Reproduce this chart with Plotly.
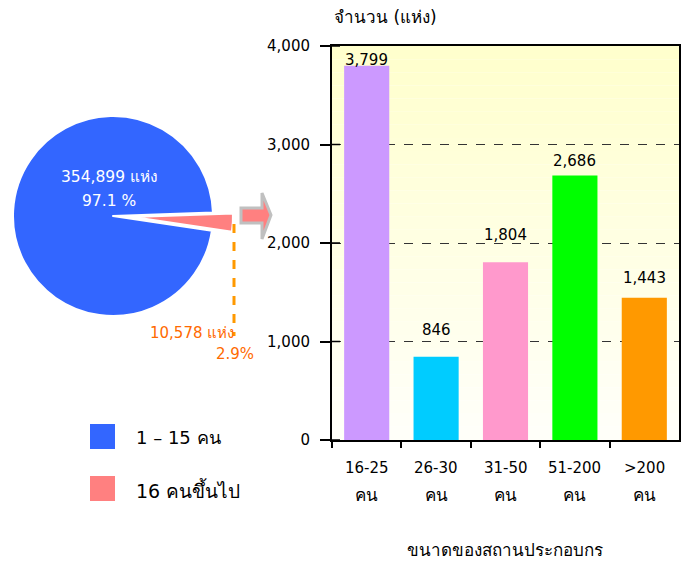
import plotly.graph_objects as go

W, H = 688, 563

# ---- data ----
pie_labels = ["16 คนขึ้นไป", "1 – 15 คน"]
pie_values = [10578, 354899]
pie_colors = ["#FF8080", "#3366FF"]
pie_text_small = ["10,578 แห่ง", "2.9%"]
pie_text_big = ["354,899 แห่ง", "97.1 %"]

categories = ["16-25", "26-30", "31-50", "51-200", ">200"]
cat_unit = "คน"
bar_values = [3799, 846, 1804, 2686, 1443]
bar_colors = ["#CC99FF", "#00CCFF", "#FF99CC", "#00FF00", "#FF9900"]
bar_text = ["3,799", "846", "1,804", "2,686", "1,443"]
label_lift = [6, 27, 27, 14, 20]   # style: how far each value label sits above its bar
y_ticks = [0, 1000, 2000, 3000, 4000]
y_ticktext = ["0", "1,000", "2,000", "3,000", "4,000"]
y_title = "จำนวน (แห่ง)"
x_title = "ขนาดของสถานประกอบกร"

FONT = "Tahoma, 'DejaVu Sans', 'Noto Sans', sans-serif"


def px(x):
    return x / W


def py(y):
    return 1 - y / H


fig = go.Figure()

# big slice (pie at original centre)
fig.add_trace(go.Pie(
    labels=pie_labels, values=pie_values, sort=False, direction="clockwise",
    rotation=88, textinfo="none", hoverinfo="label+value",
    marker=dict(colors=["rgba(0,0,0,0)", pie_colors[1]],
                line=dict(color="white", width=[0, 2])),
    domain=dict(x=[px(13), px(213)], y=[py(316), py(116)]),
    showlegend=False,
))
# exploded small slice
fig.add_trace(go.Pie(
    labels=pie_labels, values=pie_values, sort=False, direction="clockwise",
    rotation=88, textinfo="none", hoverinfo="label+value",
    marker=dict(colors=[pie_colors[0], "rgba(0,0,0,0)"],
                line=dict(color="white", width=[2, 0])),
    domain=dict(x=[px(33), px(233)], y=[py(317), py(117)]),
    showlegend=False,
))

fig.add_trace(go.Bar(
    x=categories, y=bar_values, marker=dict(color=bar_colors, line=dict(width=0)),
    showlegend=False, xaxis="x", yaxis="y", hoverinfo="x+y",
))

shapes = []
# gradient background for bar plot area
n = 30
for i in range(n):
    t = (i + 0.5) / n
    b = int(round(250 - 46 * t))
    shapes.append(dict(type="rect", xref="x domain", yref="y",
                       x0=0, x1=1, y0=4000 * i / n, y1=4000 * (i + 1) / n,
                       fillcolor=f"rgb(255,255,{b})", line=dict(width=0),
                       layer="below"))
# inner half of the crossing y ticks
for v in y_ticks:
    shapes.append(dict(type="line", xref="x domain", yref="y",
                       x0=0, x1=8 / 347, y0=v, y1=v,
                       line=dict(color="black", width=1.5)))

# arrow
ax = [241, 262, 262, 271, 262, 262, 241]
ay = [208, 208, 193, 215, 239, 223, 223]
path = "M " + " L ".join(f"{px(a)},{py(b)}" for a, b in zip(ax, ay)) + " Z"
shapes.append(dict(type="path", xref="paper", yref="paper", path=path,
                   fillcolor="#FF8080", line=dict(color="#C0C0C0", width=3)))

# orange dashed leader
shapes.append(dict(type="line", xref="paper", yref="paper",
                   x0=px(234), x1=px(234), y0=py(224), y1=py(336),
                   line=dict(color="#FF9900", width=3, dash="dash")))

# legend squares
shapes.append(dict(type="rect", xref="paper", yref="paper",
                   x0=px(90), x1=px(115), y0=py(449), y1=py(424),
                   fillcolor=pie_colors[1], line=dict(width=0)))
shapes.append(dict(type="rect", xref="paper", yref="paper",
                   x0=px(90), x1=px(115), y0=py(501), y1=py(476),
                   fillcolor=pie_colors[0], line=dict(width=0)))

annotations = []


def note(x, y, text, size=15, color="black", xanchor="center", yanchor="middle",
         xref="paper", yref="paper", yshift=0):
    annotations.append(dict(x=x, y=y, xref=xref, yref=yref, text=text,
                            showarrow=False, xanchor=xanchor, yanchor=yanchor,
                            yshift=yshift,
                            font=dict(size=size, color=color, family=FONT)))


# pie labels
note(px(109), py(177), pie_text_big[0], size=15.5, color="white")
note(px(109), py(201), pie_text_big[1], size=15.5, color="white")
note(px(236), py(333), pie_text_small[0], color="#FF6A00", xanchor="right")
note(px(256), py(354), pie_text_small[1], color="#FF6A00", xanchor="right")
# legend text
note(px(134), py(437), pie_labels[1], size=18, xanchor="left")
note(px(134), py(490), pie_labels[0], size=19, xanchor="left")
# bar value labels
for c, v, t, lift in zip(categories, bar_values, bar_text, label_lift):
    note(c, v, t, xref="x", yref="y", yshift=lift)
# category labels (two lines)
for c in categories:
    note(c, py(468), c, xref="x")
    note(c, py(495), cat_unit, size=17, xref="x")
# axis titles
note(px(332), py(17), y_title, size=17, xanchor="left")
note(px(505), py(550), x_title, size=17)

fig.update_layout(
    width=W, height=H,
    margin=dict(l=0, r=0, t=0, b=0, autoexpand=False),
    paper_bgcolor="white", plot_bgcolor="white",
    font=dict(family=FONT, size=15, color="black"),
    bargap=0.35,
    xaxis=dict(domain=[px(332), px(679)], showticklabels=False, automargin=False,
               ticks="outside", tickson="boundaries", ticklen=6,
               tickcolor="black", tickwidth=1.5,
               showline=True, linecolor="black", linewidth=2, mirror=True,
               showgrid=False, fixedrange=True),
    yaxis=dict(domain=[py(440), py(46)], range=[0, 4000], automargin=False,
               tickvals=y_ticks, ticktext=y_ticktext,
               ticks="outside", ticklen=10, tickcolor="black", tickwidth=1.5,
               ticklabelstandoff=7,
               tickfont=dict(size=15, color="black", family=FONT),
               showline=True, linecolor="black", linewidth=2, mirror=True,
               showgrid=True, gridcolor="#333333", griddash="dash", gridwidth=1,
               zeroline=False, fixedrange=True),
    shapes=shapes,
    annotations=annotations,
)

fig.write_html(
    "out.html",
    config=dict(displayModeBar=False),
    post_script="document.body.style.margin='0';document.body.style.overflow='hidden';",
)
